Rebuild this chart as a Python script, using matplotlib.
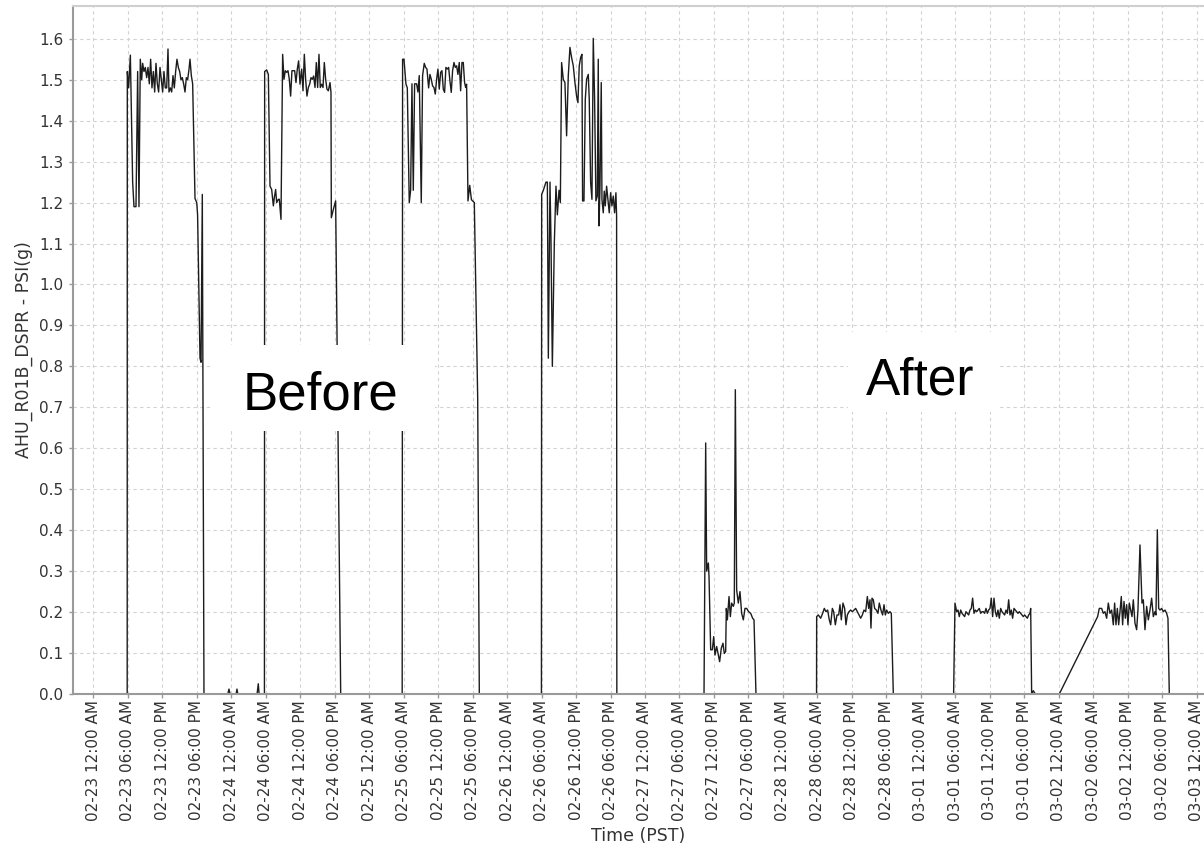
import matplotlib
matplotlib.use("Agg")
import matplotlib.pyplot as plt
from matplotlib.patches import Rectangle
import numpy as np
import pandas as pd

# x = hours after 02-23 12:00 AM (PST), y = AHU_R01B_DSPR in PSI(g)
blips_h = [23.40, 23.61, 23.80, 24.85, 25.00, 25.15, 28.50, 28.71, 28.85]
blips_v = [0.0, 0.012, 0.0, 0.0, 0.012, 0.0, 0.0, 0.025, 0.0]

feb23_h = [5.90, 5.92, 6.15, 6.45, 6.85, 7.08, 7.43, 7.72, 7.95, 8.18, 8.42, 8.59,
           8.82, 9.05, 9.29, 9.52, 9.75, 9.98, 10.21, 10.45, 10.68, 10.91, 11.14,
           11.37, 11.61, 11.84, 12.07, 12.30, 12.53, 12.77, 13.00, 13.17, 13.40,
           13.64, 13.87, 14.10, 14.33, 14.56, 14.80, 15.03, 15.26, 15.49, 15.72,
           15.96, 16.19, 16.42, 16.65, 16.83, 17.06, 17.29, 17.70, 18.00, 18.15,
           18.57, 18.75, 18.97, 19.26]
feb23_v = [0.0, 1.52, 1.48, 1.56, 1.25, 1.19, 1.19, 1.52, 1.19, 1.55, 1.50, 1.54,
           1.52, 1.53, 1.505, 1.53, 1.49, 1.55, 1.48, 1.52, 1.47, 1.54, 1.49,
           1.47, 1.53, 1.50, 1.47, 1.52, 1.48, 1.48, 1.575, 1.47, 1.48,
           1.47, 1.51, 1.48, 1.52, 1.55, 1.53, 1.52, 1.50, 1.505, 1.49,
           1.47, 1.505, 1.50, 1.525, 1.55, 1.51, 1.49, 1.21, 1.20, 1.17,
           0.82, 0.81, 1.22, 0.0]

feb24_h = [29.78, 29.82, 30.17, 30.46, 30.75, 31.04, 31.33, 31.50, 31.73, 31.91,
           32.20, 32.37, 32.66, 32.95, 33.18, 33.41, 33.65, 33.88, 34.11, 34.34,
           34.57, 34.81, 35.04, 35.27, 35.50, 35.73, 35.97, 36.26, 36.49, 36.72,
           36.95, 37.18, 37.42, 37.65, 37.88, 38.11, 38.34, 38.58, 38.81, 39.04,
           39.27, 39.50, 39.74, 39.97, 40.20, 40.43, 40.66, 40.90, 41.19, 41.36,
           41.42, 41.77, 42.17, 43.05]
feb24_v = [0.0, 1.52, 1.524, 1.513, 1.24, 1.232, 1.192, 1.212, 1.232, 1.20,
           1.208, 1.208, 1.159, 1.562, 1.501, 1.522, 1.518, 1.522, 1.501, 1.46,
           1.522, 1.522, 1.522, 1.493, 1.526, 1.546, 1.489, 1.526, 1.473, 1.562,
           1.501, 1.46, 1.481, 1.489, 1.505, 1.501, 1.509, 1.481, 1.542, 1.481,
           1.562, 1.481, 1.489, 1.481, 1.542, 1.501, 1.477, 1.473, 1.493, 1.469,
           1.163, 1.183, 1.204, 0.0]

feb25_h = [53.75, 53.82, 54.06, 54.40, 54.64, 54.98, 55.22, 55.45, 55.68, 55.91,
           56.26, 56.49, 56.72, 57.07, 57.30, 57.59, 57.83, 58.06, 58.35, 58.58,
           58.81, 59.04, 59.28, 59.51, 59.74, 59.97, 60.20, 60.44, 60.67, 60.90,
           61.13, 61.36, 61.60, 61.83, 62.06, 62.29, 62.52, 62.76, 62.99, 63.22,
           63.45, 63.68, 63.92, 64.15, 64.38, 64.61, 64.79, 64.96, 65.20, 65.50,
           65.80, 66.30, 66.89, 67.17]
feb25_v = [0.0, 1.55, 1.55, 1.49, 1.48, 1.20, 1.23, 1.49, 1.23, 1.49,
           1.49, 1.47, 1.51, 1.20, 1.51, 1.54, 1.53, 1.526, 1.48, 1.513,
           1.501, 1.485, 1.481, 1.465, 1.501, 1.526, 1.477, 1.518, 1.522, 1.477,
           1.469, 1.53, 1.526, 1.53, 1.497, 1.469, 1.522, 1.542, 1.53, 1.534,
           1.513, 1.542, 1.473, 1.542, 1.542, 1.493, 1.481, 1.489, 1.204, 1.242,
           1.207, 1.20, 0.72, 0.0]

feb26_h = [77.98, 78.02, 78.31, 78.77, 79.01, 79.18, 79.47, 79.64, 79.88, 80.22,
           80.51, 80.75, 81.04, 81.27, 81.49, 81.78, 82.07, 82.36, 82.65, 82.94,
           83.23, 83.52, 83.81, 84.10, 84.33, 84.56, 84.80, 85.03, 85.14, 85.38,
           85.61, 85.84, 86.13, 86.30, 86.54, 86.77, 87.00, 87.23, 87.46, 87.70,
           87.87, 87.99, 88.16, 88.39, 88.51, 88.74, 88.91, 89.09, 89.32, 89.55,
           89.78, 90.02, 90.25, 90.48, 90.71, 90.94, 91.06, 91.10]
feb26_v = [0.0, 1.22, 1.23, 1.25, 1.25, 0.82, 1.25, 1.11, 0.80, 1.10,
           1.24, 1.17, 1.23, 1.20, 1.542, 1.501, 1.493, 1.363, 1.509, 1.579,
           1.554, 1.534, 1.493, 1.46, 1.444, 1.534, 1.554, 1.562, 1.204, 1.204,
           1.452, 1.501, 1.513, 1.452, 1.249, 1.208, 1.601, 1.452, 1.204, 1.216,
           1.55, 1.143, 1.232, 1.493, 1.208, 1.175, 1.228, 1.192, 1.24, 1.208,
           1.175, 1.224, 1.192, 1.216, 1.175, 1.224, 1.167, 0.0]

feb27_h = [106.27, 106.56, 106.73, 107.02, 107.14, 107.43, 107.72, 107.95, 108.18,
           108.47, 108.70, 108.99, 109.28, 109.57, 109.80, 110.04, 110.15, 110.33,
           110.62, 110.85, 111.08, 111.37, 111.54, 111.72, 111.95, 112.24, 112.53,
           112.82, 113.11, 113.40, 113.69, 114.04, 114.39, 114.73, 114.97, 115.31]
feb27_v = [0.0, 0.613, 0.30, 0.32, 0.287, 0.108, 0.108, 0.14, 0.095,
           0.116, 0.099, 0.079, 0.112, 0.124, 0.099, 0.104, 0.209, 0.181,
           0.238, 0.189, 0.222, 0.214, 0.222, 0.743, 0.254, 0.222, 0.25,
           0.197, 0.181, 0.209, 0.209, 0.201, 0.197, 0.185, 0.181, 0.0]

feb28_h = [125.85, 125.87, 126.16, 126.57, 126.91, 127.20, 127.49, 127.78, 128.07,
           128.31, 128.60, 128.83, 129.12, 129.41, 129.70, 129.93, 130.16, 130.45,
           130.74, 130.97, 131.21, 131.50, 131.79, 132.08, 132.37, 132.66, 132.95,
           133.24, 133.53, 133.82, 134.11, 134.40, 134.69, 134.92, 135.15, 135.32,
           135.50, 135.73, 135.96, 136.25, 136.54, 136.77, 137.06, 137.35, 137.59,
           137.82, 138.05, 138.34, 138.63, 138.86, 139.21]
feb28_v = [0.0, 0.189, 0.193, 0.185, 0.197, 0.209, 0.201, 0.205, 0.181,
           0.169, 0.209, 0.201, 0.169, 0.193, 0.193, 0.218, 0.181, 0.222,
           0.209, 0.169, 0.193, 0.201, 0.205, 0.201, 0.205, 0.209, 0.201,
           0.193, 0.185, 0.193, 0.205, 0.201, 0.238, 0.209, 0.23, 0.161,
           0.234, 0.23, 0.209, 0.205, 0.197, 0.222, 0.205, 0.193, 0.218,
           0.193, 0.205, 0.197, 0.201, 0.197, 0.0]

mar01_h = [149.70, 149.94, 150.23, 150.46, 150.69, 150.93, 151.16, 151.39, 151.62,
           151.85, 152.09, 152.32, 152.55, 152.78, 153.01, 153.25, 153.48, 153.71,
           153.94, 154.17, 154.41, 154.64, 154.87, 155.10, 155.33, 155.57, 155.80,
           156.03, 156.26, 156.49, 156.73, 156.96, 157.19, 157.42, 157.65, 157.89,
           158.12, 158.35, 158.58, 158.81, 159.05, 159.28, 159.51, 159.74, 159.97,
           160.21, 160.44, 160.67, 160.90, 161.13, 161.37, 161.60, 161.83, 162.06,
           162.29, 162.53, 162.76, 162.99, 163.11, 163.28, 163.57, 163.92]
mar01_v = [0.0, 0.222, 0.201, 0.205, 0.189, 0.205, 0.197, 0.193, 0.189,
           0.201, 0.197, 0.193, 0.205, 0.209, 0.234, 0.197, 0.205, 0.201,
           0.205, 0.209, 0.197, 0.201, 0.201, 0.197, 0.209, 0.197, 0.205,
           0.209, 0.234, 0.189, 0.234, 0.201, 0.189, 0.205, 0.185, 0.209,
           0.201, 0.197, 0.193, 0.205, 0.197, 0.23, 0.193, 0.205, 0.185,
           0.209, 0.205, 0.201, 0.197, 0.201, 0.197, 0.193, 0.189, 0.193,
           0.189, 0.185, 0.193, 0.197, 0.209, 0.0, 0.008, 0.0]

mar02_h = [168.09, 174.76, 175.05, 175.46, 175.75, 176.04, 176.33, 176.62, 176.91,
           177.20, 177.49, 177.72, 177.95, 178.19, 178.42, 178.65, 178.88, 179.11,
           179.35, 179.58, 179.81, 180.04, 180.27, 180.51, 180.74, 180.97, 181.26,
           181.55, 181.78, 182.13, 182.48, 182.71, 183.00, 183.29, 183.58, 183.87,
           184.16, 184.45, 184.74, 184.91, 185.15, 185.38, 185.61, 185.90, 186.19,
           186.48, 186.77, 187.00, 187.23]
mar02_v = [0.0, 0.189, 0.209, 0.209, 0.197, 0.201, 0.185, 0.222, 0.197,
           0.205, 0.169, 0.222, 0.169, 0.209, 0.169, 0.201, 0.238, 0.169,
           0.226, 0.185, 0.218, 0.169, 0.222, 0.205, 0.189, 0.23, 0.173,
           0.157, 0.205, 0.364, 0.222, 0.23, 0.157, 0.214, 0.181, 0.205,
           0.234, 0.189, 0.201, 0.193, 0.401, 0.209, 0.205, 0.209, 0.201,
           0.205, 0.197, 0.185, 0.0]

ticks_dt = pd.date_range("2015-02-23 00:00", "2015-03-03 00:00", freq="6h")
tick_labels = list(ticks_dt.strftime("%m-%d %I:%M %p"))
y_ticks = [0.0, 0.1, 0.2, 0.3, 0.4, 0.5, 0.6, 0.7, 0.8, 0.9, 1.0, 1.1, 1.2, 1.3, 1.4, 1.5, 1.6]


def main():
    hours = np.concatenate([[-3.6], feb23_h, blips_h, feb24_h, feb25_h, feb26_h,
                            feb27_h, feb28_h, mar01_h, mar02_h, [194.0]])
    vals = np.concatenate([[0.0], feb23_v, blips_v, feb24_v, feb25_v, feb26_v,
                           feb27_v, feb28_v, mar01_v, mar02_v, [0.0]])

    fig = plt.figure(figsize=(12.04, 8.51), dpi=100)
    ax = fig.add_axes([73 / 1204, 157 / 851, 1131 / 1204, 688 / 851])

    ax.plot(hours, vals, color="#1c1c1c", lw=1.0, zorder=2)

    ax.set_xlim(-3.53, 193.27)
    ax.set_ylim(0, 1.68)

    tick_pos = np.arange(len(tick_labels)) * 6
    ax.set_xticks(tick_pos)
    ax.set_xticklabels(tick_labels, rotation=90, fontsize=11, color="#333333")
    ax.set_yticks(y_ticks)
    ax.set_yticklabels(["%.1f" % v for v in y_ticks], fontsize=11, color="#333333")
    ax.tick_params(axis="x", length=3, width=1, color="#999999", pad=1.5)
    ax.tick_params(axis="y", length=3, width=1, color="#999999", pad=4)

    ax.set_axisbelow(True)
    ax.grid(True, color="#d2d2d2", linestyle=(0, (3, 3)), linewidth=0.8)

    for side in ("left", "bottom"):
        ax.spines[side].set_color("#9a9a9a")
        ax.spines[side].set_linewidth(1.5)
    ax.spines["top"].set_color("#cfcfcf")
    ax.spines["top"].set_linewidth(1.5)
    ax.spines["right"].set_visible(False)

    ax.set_xlabel("Time (PST)", fontsize=12.5, color="#333333", labelpad=4)
    ax.set_ylabel("AHU_R01B_DSPR - PSI(g)", fontsize=12.5, color="#333333", labelpad=4)

    # white label boxes pasted over the chart
    ax.add_patch(Rectangle((20.7, 0.641), 38.8, 0.210, facecolor="white",
                           edgecolor="none", zorder=4))
    ax.add_patch(Rectangle((131.3, 0.689), 26.1, 0.194, facecolor="white",
                           edgecolor="none", zorder=4))
    ax.text(39.5, 0.694, "Before", ha="center", va="baseline", fontsize=38,
            family="Liberation Sans", color="black", zorder=5)
    ax.text(143.8, 0.731, "After", ha="center", va="baseline", fontsize=37,
            family="Liberation Sans", color="black", zorder=5)

    fig.savefig("out.png", dpi=100)


if __name__ == "__main__":
    main()
